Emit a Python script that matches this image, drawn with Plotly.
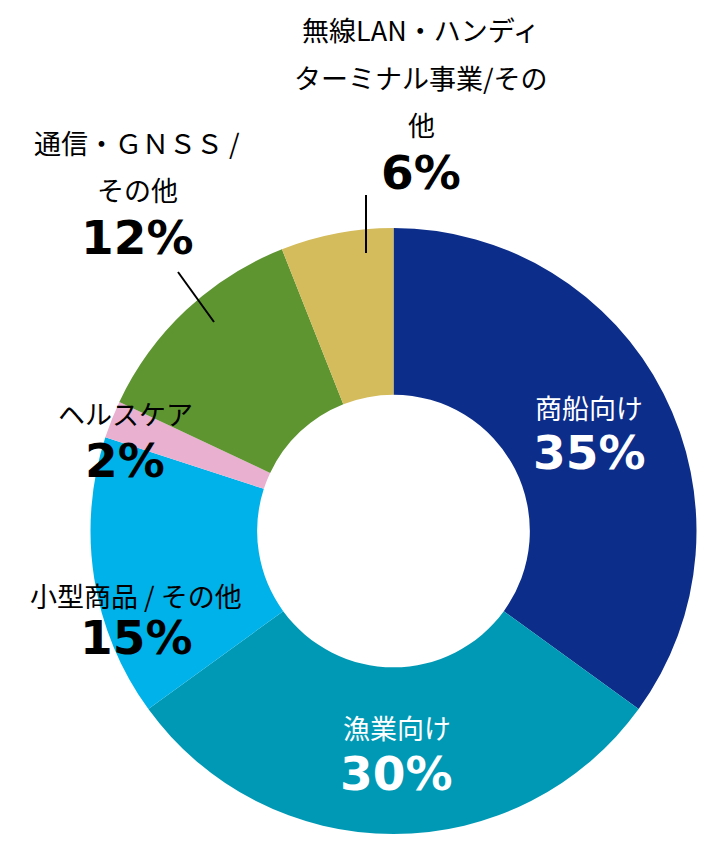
import plotly.graph_objects as go

# ---- data ----
categories = ["商船向け", "漁業向け", "小型商品 / その他", "ヘルスケア", "通信・ＧＮＳＳ / その他", "無線LAN・ハンディターミナル事業/その他"]
label_lines = [
    ["商船向け"],
    ["漁業向け"],
    ["小型商品 / その他"],
    ["ヘルスケア"],
    ["通信・ＧＮＳＳ /", "その他"],
    ["無線LAN・ハンディ", "ターミナル事業/その", "他"],
]
values = [35, 30, 15, 2, 12, 6]
colors = ["#0c2d8a", "#0099b5", "#00b2ea", "#eab0d0", "#5e9531", "#d4bb5b"]

W, H = 707, 843

# ---- label layout (pixel positions of the percent line, line gap) ----
pct_pos = [(589, 452), (397, 773), (136, 637), (125, 460), (137, 238), (421, 172)]
text_colors = ["white", "white", "black", "black", "black", "black"]
name_gap = [45, 46, 42, 47, 48, 47]
line_step = 48
leaders = [None, None, None, None, ((178, 272), (214, 322)), ((366, 195), (366, 253))]

JP = "Noto Sans CJK JP"
PCT = "DejaVu Sans"

fig = go.Figure(go.Pie(
    labels=categories,
    values=values,
    marker=dict(colors=colors, line=dict(width=0)),
    hole=0.45,
    sort=False,
    direction="clockwise",
    rotation=0,
    textinfo="none",
    hoverinfo="label+percent",
    domain=dict(x=[90.5 / W, 696.5 / W], y=[9 / H, 615 / H]),
))

def px(x):
    return x / W

def py(y):
    return 1 - y / H

annotations = []
shapes = []
for i, v in enumerate(values):
    cx, cy = pct_pos[i]
    annotations.append(dict(
        x=px(cx), y=py(cy), xref="paper", yref="paper",
        text=f"<b>{v}%</b>", showarrow=False,
        xanchor="center", yanchor="middle",
        font=dict(family=PCT, size=47, color=text_colors[i]),
    ))
    lines = label_lines[i]
    n = len(lines)
    for j, ln in enumerate(lines):
        ly = cy - name_gap[i] - (n - 1 - j) * line_step
        annotations.append(dict(
            x=px(cx), y=py(ly), xref="paper", yref="paper",
            text=ln, showarrow=False,
            xanchor="center", yanchor="middle",
            font=dict(family=JP, size=27, color=text_colors[i]),
        ))
    if leaders[i] is not None:
        (x0, y0), (x1, y1) = leaders[i]
        shapes.append(dict(
            type="line", xref="paper", yref="paper",
            x0=px(x0), y0=py(y0), x1=px(x1), y1=py(y1),
            line=dict(color="black", width=2),
        ))

fig.update_layout(
    width=W, height=H,
    margin=dict(l=0, r=0, t=0, b=0),
    paper_bgcolor="white",
    plot_bgcolor="white",
    showlegend=False,
    annotations=annotations,
    shapes=shapes,
)

fig.write_html(
    "out.html",
    config={"displayModeBar": False},
    post_script="document.body.style.margin='0';document.body.style.overflow='hidden';",
)
